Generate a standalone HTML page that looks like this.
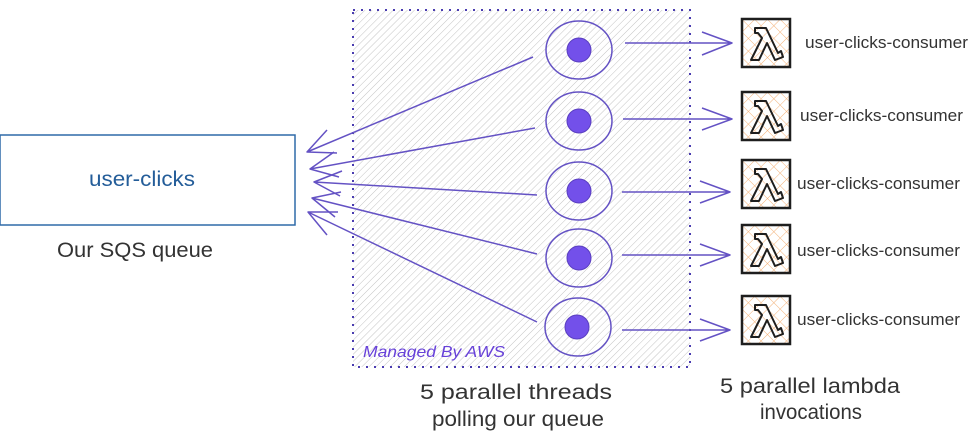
<!DOCTYPE html>
<html><head><meta charset="utf-8"><style>
html,body{margin:0;padding:0;background:#fff;width:970px;height:445px;overflow:hidden}
svg{display:block}
text{font-family:"Liberation Sans",sans-serif}
</style></head><body>
<svg width="970" height="445" viewBox="0 0 970 445" xmlns="http://www.w3.org/2000/svg">
<defs>
<pattern id="h" width="5" height="5" patternUnits="userSpaceOnUse" patternTransform="rotate(45)">
<line x1="0" y1="0" x2="0" y2="5" stroke="#c4c4c4" stroke-width="1"/>
</pattern>
<pattern id="x" width="9" height="9" patternUnits="userSpaceOnUse" patternTransform="rotate(45)">
<line x1="0" y1="0" x2="0" y2="9" stroke="#f3b27a" stroke-width="1"/>
<line x1="0" y1="0" x2="9" y2="0" stroke="#f3b27a" stroke-width="1"/>
</pattern>
<g id="lam">
<rect x="0" y="0" width="48" height="48" fill="url(#x)" stroke="#1e1e1e" stroke-width="2.5"/>
<path d="M13 9 L24 9 L36 34 L39 32 L41 38 L33 41 L25 24 L17 41 L9 41 L20 19 L16 14 L13 14 Z" fill="none" stroke="#1e1e1e" stroke-width="2" stroke-linejoin="round"/>
</g>
</defs>

<rect x="353" y="10" width="337" height="357" fill="url(#h)" stroke="#4a3cb0" stroke-width="2" stroke-dasharray="2 6"/>
<text x="363" y="357" font-size="16" fill="#6741d9" font-style="italic" textLength="142" lengthAdjust="spacingAndGlyphs">Managed By AWS</text>

<rect x="0" y="135" width="295" height="90" fill="#fff" stroke="#2f6aa8" stroke-width="1.5"/>
<text x="89" y="186" font-size="21" fill="#245d99" textLength="106" lengthAdjust="spacingAndGlyphs">user-clicks</text>
<text x="57" y="257" font-size="21" fill="#333" textLength="156" lengthAdjust="spacingAndGlyphs">Our SQS queue</text>

<g fill="none" stroke="#6452c4" stroke-width="1.5">
<ellipse cx="579" cy="50" rx="33" ry="29"/>
<ellipse cx="579" cy="121" rx="33" ry="29"/>
<ellipse cx="579" cy="191" rx="33" ry="29"/>
<ellipse cx="579" cy="258" rx="33" ry="29"/>
<ellipse cx="578" cy="327" rx="33" ry="29"/>
</g>
<g fill="#7350ea" stroke="#5a3fc0" stroke-width="1">
<circle cx="579" cy="50" r="12"/>
<circle cx="579" cy="121" r="12"/>
<circle cx="579" cy="191" r="12"/>
<circle cx="579" cy="258" r="12"/>
<circle cx="577" cy="327" r="12"/>
</g>

<g fill="none" stroke="#6452c4" stroke-width="1.5" stroke-linejoin="round">
<path d="M533 57 L307 152 M327 130 L307 152 L337 153"/>
<path d="M535 128 L310 169 M334 152 L310 169 L339 177"/>
<path d="M537 195 L314 182 M342 171 L314 182 L340 196"/>
<path d="M537 254 L312 198 M341 192 L312 198 L335 217"/>
<path d="M537 322 L308 212 M338 212 L308 212 L327 235"/>
</g>

<g fill="none" stroke="#6452c4" stroke-width="1.5" stroke-linejoin="round">
<path d="M625 43 L732 43 M702 32 L732 43 L702 55"/>
<path d="M623 119 L732 119 M702 108 L732 119 L702 130"/>
<path d="M622 192 L730 192 M700 181 L730 192 L700 203"/>
<path d="M622 255 L730 255 M700 244 L730 255 L700 266"/>
<path d="M622 330 L730 330 M700 319 L730 330 L700 341"/>
</g>

<use href="#lam" x="742" y="19"/>
<use href="#lam" x="742" y="92"/>
<use href="#lam" x="742" y="160"/>
<use href="#lam" x="742" y="225"/>
<use href="#lam" x="742" y="296"/>

<g font-size="17" fill="#333">
<text x="805" y="48" textLength="163" lengthAdjust="spacingAndGlyphs">user-clicks-consumer</text>
<text x="800" y="121" textLength="163" lengthAdjust="spacingAndGlyphs">user-clicks-consumer</text>
<text x="797" y="189" textLength="163" lengthAdjust="spacingAndGlyphs">user-clicks-consumer</text>
<text x="797" y="256" textLength="163" lengthAdjust="spacingAndGlyphs">user-clicks-consumer</text>
<text x="797" y="325" textLength="163" lengthAdjust="spacingAndGlyphs">user-clicks-consumer</text>
</g>

<g font-size="21" fill="#333">
<text x="420" y="399" textLength="192" lengthAdjust="spacingAndGlyphs">5 parallel threads</text>
<text x="432" y="426" textLength="172" lengthAdjust="spacingAndGlyphs">polling our queue</text>
<text x="720" y="393" textLength="180" lengthAdjust="spacingAndGlyphs">5 parallel lambda</text>
<text x="760" y="419" textLength="102" lengthAdjust="spacingAndGlyphs">invocations</text>
</g>
</svg>
</body></html>
